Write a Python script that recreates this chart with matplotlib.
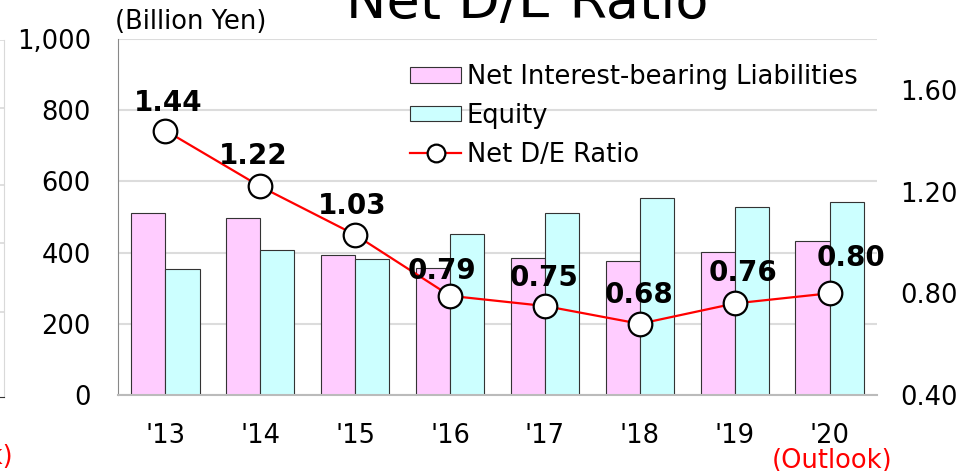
import matplotlib
matplotlib.use("Agg")
import matplotlib.pyplot as plt
import numpy as np

plt.rcParams['font.family'] = ['DejaVu Sans']

# data (billion yen / ratio)
years = ["'13", "'14", "'15", "'16", "'17", "'18", "'19", "'20"]
liabilities = [511, 497, 393, 357, 385, 376, 402, 433]
equity = [354, 407, 382, 452, 511, 553, 528, 542]
de_ratio = [1.44, 1.22, 1.03, 0.79, 0.75, 0.68, 0.76, 0.80]

# label nudges in pixels (dx, baseline dy)
lab_dx = [3, -7, -3, -8, -1, -1, 8, 21]
lab_dy = [20, 22, 21, 17, 20, 21, 22, 27]

pink = '#FFCCFF'
cyan = '#CCFFFF'

fig = plt.figure(figsize=(9.68, 4.71), dpi=100)
ax = fig.add_axes([118/968, 1 - 395/471, (877 - 118)/968, (395 - 39)/471])
ax2 = ax.twinx()

x = np.arange(len(years))
w = 0.36
ax.bar(x - w/2, liabilities, w, color=pink, edgecolor='#333333', lw=0.8,
       label='Net Interest-bearing Liabilities', zorder=2)
ax.bar(x + w/2, equity, w, color=cyan, edgecolor='#333333', lw=0.8,
       label='Equity', zorder=2)

ax.set_xlim(-0.5, len(years) - 0.5)
ax.set_ylim(0, 1000)
ax.set_yticks(range(0, 1001, 200))
ax.set_yticklabels([f'{v:,}' for v in range(0, 1001, 200)])
ax.set_xticks(x)
ax.set_xticklabels(years)
ax.set_axisbelow(True)
ax.yaxis.grid(True, color='#dcdcdc', lw=1.5)
ax.tick_params(axis='both', length=0, labelsize=18.5)
ax.tick_params(axis='y', pad=19.5)
ax.tick_params(axis='x', pad=20)
for s in ['top', 'right']:
    ax.spines[s].set_visible(False)
ax.spines['left'].set_color('#888888')
ax.spines['bottom'].set_color('#bbbbbb')
ax.spines['bottom'].set_linewidth(1.5)

ax2.plot(x, de_ratio, color='red', lw=1.6, marker='o', ms=17,
         mfc='white', mec='black', mew=1.6, label='Net D/E Ratio', zorder=5)
ax2.set_ylim(0.4, 1.8)
ax2.set_yticks([0.4, 0.8, 1.2, 1.6])
ax2.set_yticklabels(['0.40', '0.80', '1.20', '1.60'])
ax2.tick_params(axis='y', length=0, labelsize=18.5, pad=17)
for s in ax2.spines.values():
    s.set_visible(False)

for i, v in enumerate(de_ratio):
    ax2.annotate(f'{v:.2f}', xy=(x[i], v), xytext=(lab_dx[i], lab_dy[i]),
                 textcoords='offset pixels', ha='center', va='baseline',
                 fontsize=20, fontweight='bold', zorder=6)

h1, l1 = ax.get_legend_handles_labels()
h2, l2 = ax2.get_legend_handles_labels()
ax2.legend(h1 + h2, l1 + l2, loc='upper left',
           bbox_to_anchor=(410/968, 1 - 64/471), bbox_transform=fig.transFigure,
           frameon=False, fontsize=18.5, handlelength=2.0, handleheight=0.55,
           handletextpad=0.2, labelspacing=0.5, borderpad=0, borderaxespad=0,
           markerscale=0.75)

ax.annotate('(Outlook)', xy=(x[-1], 0), xycoords=('data', 'axes fraction'),
            xytext=(3, -66), textcoords='offset pixels', ha='center', va='center',
            color='red', fontsize=18.5)

fig.text(527/968, 1 - 18/471, 'Net D/E Ratio', ha='center', va='baseline',
         fontsize=39)
fig.text(115/968, 1 - 22/471, '(Billion Yen)', ha='left', va='center',
         fontsize=18.5)

# remnant of the neighbouring chart at the left edge
ax0 = fig.add_axes([0, 1 - 397/471, 4/968, (397 - 40)/471])
ax0.set_ylim(397, 40)
ax0.set_xlim(0, 1)
ax0.set_yticks([40, 108, 185, 243, 312])
ax0.yaxis.grid(True, color='#d9d9d9', lw=1.2)
ax0.tick_params(length=0, labelleft=False, labelbottom=False)
for s in ['top', 'left']:
    ax0.spines[s].set_visible(False)
ax0.spines['right'].set_color('#d9d9d9')
ax0.spines['bottom'].set_color('#333333')
fig.text(13/968, 1 - 457/471, '(Outlook)', ha='right', va='center',
         color='red', fontsize=18.5)

fig.savefig('out.png', dpi=100)
